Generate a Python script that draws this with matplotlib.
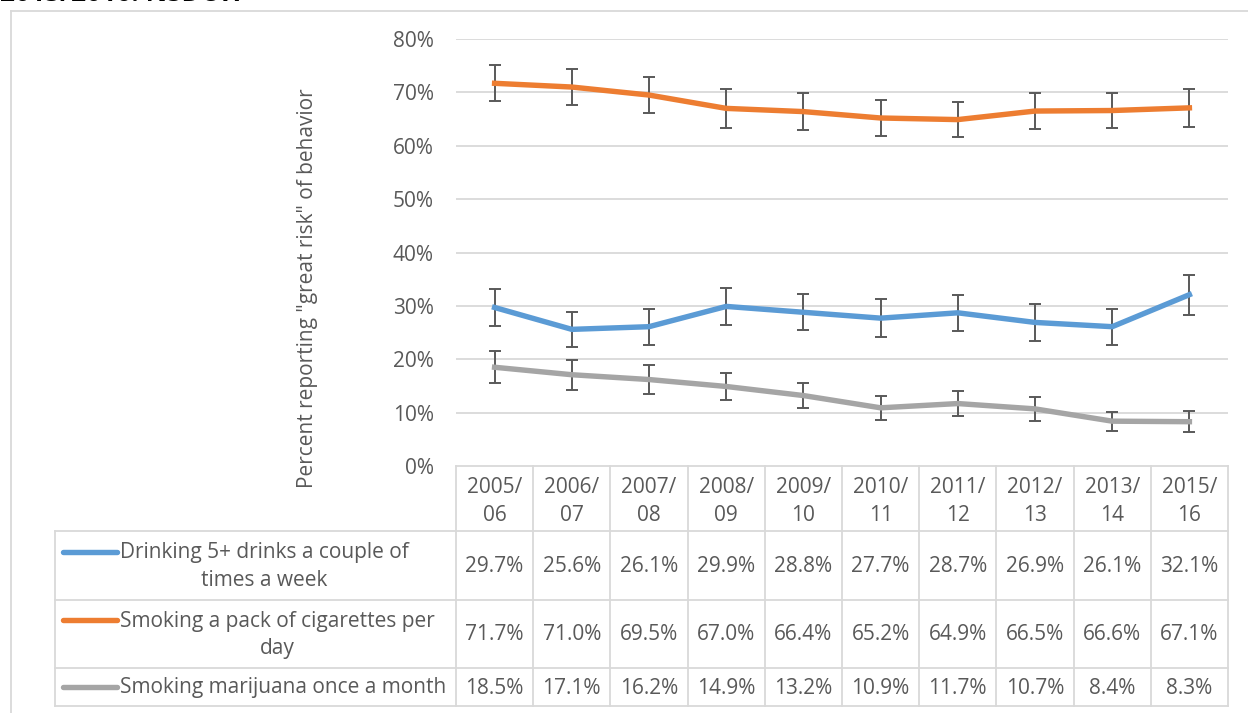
import numpy as np
import matplotlib
matplotlib.use('Agg')
import matplotlib.pyplot as plt

plt.rcParams['font.family'] = ['Open Sans', 'DejaVu Sans']

# data
years = ['2005/\n06', '2006/\n07', '2007/\n08', '2008/\n09', '2009/\n10',
         '2010/\n11', '2011/\n12', '2012/\n13', '2013/\n14', '2015/\n16']
drinking = [29.7, 25.6, 26.1, 29.9, 28.8, 27.7, 28.7, 26.9, 26.1, 32.1]
cigarettes = [71.7, 71.0, 69.5, 67.0, 66.4, 65.2, 64.9, 66.5, 66.6, 67.1]
marijuana = [18.5, 17.1, 16.2, 14.9, 13.2, 10.9, 11.7, 10.7, 8.4, 8.3]
drinking_err = [3.4, 3.3, 3.4, 3.5, 3.4, 3.5, 3.4, 3.5, 3.4, 3.75]
cigarettes_err = [3.4, 3.3, 3.4, 3.6, 3.4, 3.4, 3.3, 3.4, 3.3, 3.55]
marijuana_err = [3.0, 2.8, 2.65, 2.6, 2.4, 2.2, 2.3, 2.25, 1.8, 2.0]
series_names = ['Drinking 5+ drinks a couple of\ntimes a week',
                'Smoking a pack of cigarettes per\nday',
                'Smoking marijuana once a month']

colors = ['#5B9BD5', '#ED7D31', '#A5A5A5']
txt = '#595959'
grid = '#D9D9D9'
fs = 15

W, H = 1248, 713
fig = plt.figure(figsize=(W / 100, H / 100), dpi=100)

# plot area in pixels
x0, x1 = 456, 1228
y0, y1 = 466, 39
ax = fig.add_axes([x0 / W, 1 - y0 / H, (x1 - x0) / W, (y0 - y1) / H])
n = len(years)
x = np.arange(n)
for vals, err, c in zip([drinking, cigarettes, marijuana],
                        [drinking_err, cigarettes_err, marijuana_err], colors):
    ax.errorbar(x, vals, yerr=err, color=c, lw=3.9, ecolor='#595959',
                elinewidth=1.4, capsize=4, capthick=1.4, zorder=3)
    ax.lines[-1].set_solid_capstyle('round')
    ax.lines[-1].set_solid_joinstyle('round')

ax.set_xlim(-0.5, n - 0.5)
ax.set_ylim(0, 80)
ax.set_yticks(range(0, 81, 10))
ax.set_yticklabels([f'{v}%' for v in range(0, 81, 10)], fontsize=fs, color=txt)
ax.tick_params(axis='y', length=0, pad=16)
ax.set_xticks([])
for v in range(10, 81, 10):
    ax.axhline(v, color=grid, lw=1.3, zorder=1)
for s in ax.spines.values():
    s.set_visible(False)
ax.set_ylabel('Percent reporting "great risk" of behavior', fontsize=fs,
              color=txt, labelpad=0, va='center')
ax.yaxis.set_label_coords((308 - x0) / (x1 - x0), (y0 - 288) / (y0 - y1))
ax.set_facecolor('none')

# overlay in pixel coords for data table and frame
ov = fig.add_axes([0, 0, 1, 1], zorder=-1)
ov.set_xlim(0, W)
ov.set_ylim(H, 0)
ov.axis('off')

rows = [466, 531, 600, 668, 706]
tleft = 55
cw = (x1 - x0) / n
cols = [x0 + i * cw for i in range(n + 1)]

ov.plot([x0, x1], [rows[0], rows[0]], color=grid, lw=1.3)
for r in rows[1:]:
    ov.plot([tleft, x1], [r, r], color=grid, lw=1.3)
for c in cols:
    ov.plot([c, c], [rows[0], rows[-1]], color=grid, lw=1.3)
ov.plot([tleft, tleft], [rows[1], rows[-1]], color=grid, lw=1.3)

for i, lab in enumerate(years):
    xc = (cols[i] + cols[i + 1]) / 2
    ov.text(xc, (rows[0] + rows[1]) / 2 + 3, lab, ha='center', va='center',
            fontsize=fs, color=txt, linespacing=1.4)

for j, (name, vals, c) in enumerate(zip(series_names,
                                        [drinking, cigarettes, marijuana], colors)):
    yc = (rows[j + 1] + rows[j + 2]) / 2
    ytop = yc - 14 if '\n' in name else yc
    ov.plot([63, 117], [ytop, ytop], color=c, lw=3.9, solid_capstyle='round')
    ov.text(120, yc + 1, name, ha='left', va='center', multialignment='center',
            fontsize=fs, color=txt, linespacing=1.4)
    for i, v in enumerate(vals):
        xc = (cols[i] + cols[i + 1]) / 2
        ov.text(xc, yc + 1, f'{v:.1f}%', ha='center', va='center',
                fontsize=fs, color=txt)

# chart frame (only top and left edges visible)
ov.plot([11, W], [10.5, 10.5], color=grid, lw=1.3)
ov.plot([11, 11], [10.5, H], color=grid, lw=1.3)

# cut-off title at the very top
fig.text(0.0, 1 - 1.2 / H, '2015/2016: NSDUH', ha='left', va='baseline',
         fontsize=19, fontweight='bold', color='black')

fig.savefig('out.png', dpi=100)
